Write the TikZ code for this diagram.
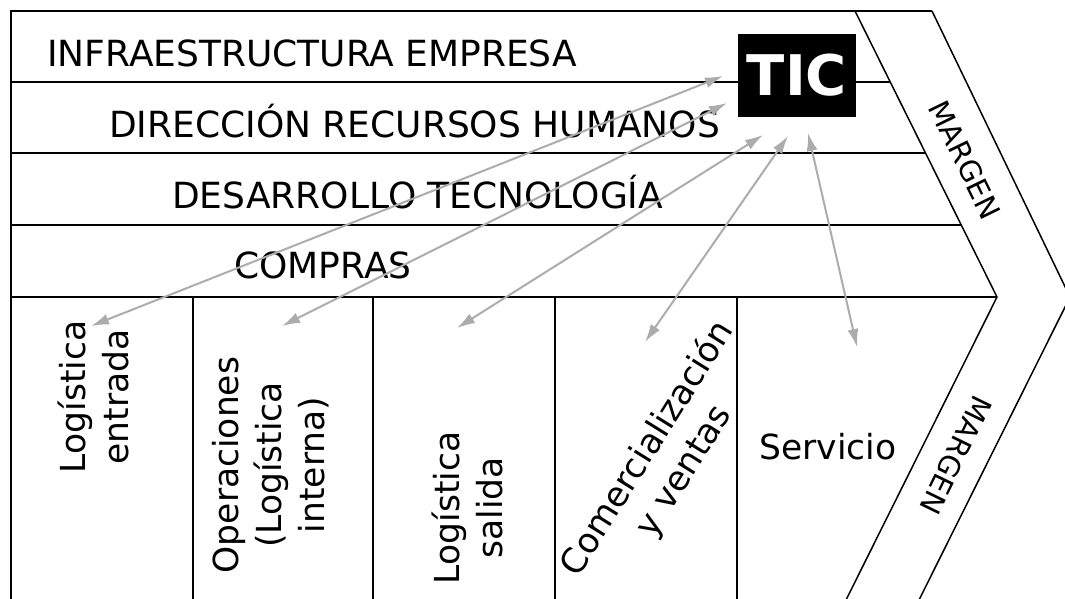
\documentclass[tikz,border=0pt]{standalone}
\usepackage{fontspec}
\setmainfont{DejaVu Sans}
\usetikzlibrary{arrows.meta}

\begin{document}
\begin{tikzpicture}[x=1pt,y=-1pt]
	\useasboundingbox (0,0) rectangle (1065,598);

	% marco y filas
	\begin{scope}[line width=2.5pt]
		\draw (11,610) -- (11,11) -- (932,11);
		\draw (11,82) -- (890,82);
		\draw (11,153) -- (925,153);
		\draw (11,225) -- (961,225);
		\draw (11,297) -- (997,297);
		\foreach \x in {193,373,555,737}
			\draw (\x,297) -- (\x,610);
	\end{scope}
	\draw[line width=1.5pt] (855,11) -- (997,297) -- (841,610);
	\draw[line width=1.5pt] (932,11) -- (1070,297) -- (914,610);

	\begin{scope}[every node/.style={font=\fontsize{36}{40}\selectfont, anchor=base west, inner sep=0pt}]
		\node (infra) at (47,66) {INFRAESTRUCTURA EMPRESA};
		\node (rrhh) at (109,137) {DIRECCIÓN RECURSOS HUMANOS};
		\node (desa) at (172,208) {DESARROLLO TECNOLOGÍA};
		\node (compras) at (234,278) {COMPRAS};
	\end{scope}

	\begin{scope}[every node/.style={font=\fontsize{34.5}{43}\selectfont, align=center, inner sep=0pt}]
		\node[rotate=90] (c1) at (93,397) {Logística\\entrada};
		\node[rotate=90] (c2) at (271,465) {Operaciones\\(Logística\\interna)};
		\node[rotate=90] (c3) at (467,508) {Logística\\salida};
		\node[rotate=58] (c4) at (666,460) {Comercialización\\y ventas};
		\node (c5) at (828,447) {Servicio};
	\end{scope}

	\begin{scope}[every node/.style={font=\fontsize{29}{32}\selectfont, inner sep=0pt}]
		\node[rotate=-64] (m1) at (965,160) {MARGEN};
		\node[rotate=-116] (m2) at (956,455) {MARGEN};
	\end{scope}

	\node[fill=black, text=white, font=\fontsize{56}{60}\selectfont\bfseries,
	      minimum width=118pt, minimum height=83pt, inner sep=0pt] (tic) at (797,75.5) {TIC};

	\coordinate (t1) at (723,76);
	\coordinate (t2) at (727,103);
	\coordinate (t3) at (763,135);
	\coordinate (t4) at (788,136);
	\coordinate (t5) at (808,133);
	\coordinate (b1) at (91,326);
	\coordinate (b2) at (282,326);
	\coordinate (b3) at (457,328);
	\coordinate (b4) at (645,342);
	\coordinate (b5) at (857,347);

	\begin{scope}[>={Latex[length=18pt,width=11pt]},
	              every edge/.style={draw=gray!65, line width=2pt}]
		\path (t1) edge[<->] (b1);
		\path (t2) edge[<->] (b2);
		\path (t3) edge[<->] (b3);
		\path (t4) edge[<->] (b4);
		\path (t5) edge[<->] (b5);
	\end{scope}
\end{tikzpicture}
\end{document}
